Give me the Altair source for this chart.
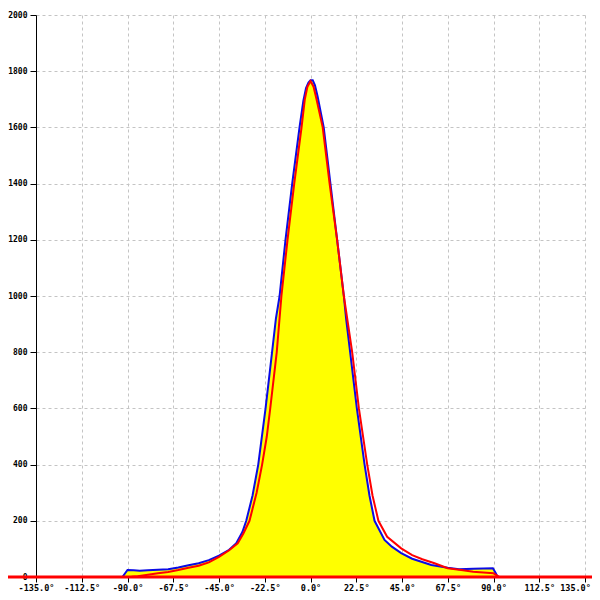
import altair as alt
import pandas as pd

# measured profile (blue line, yellow fill)
blue_x = [-92.5, -90, -87, -84, -80, -75, -70, -65, -60, -55, -50, -45, -40, -36.5, -33.5,
          -31.6, -28.5, -25.7, -22.1, -18.9, -17, -15.2, -12.3, -9.0, -5.4, -3.5, -2.2, -1, 0, 1.1,
          2.2, 3.5, 6.5, 9.8, 13.1, 16.4, 17.5, 19.5, 22.8, 26.6, 29, 31.5, 36.4, 40, 44.6, 50,
          59.4, 67.5, 73, 80, 85, 89.7, 91, 92]
blue_y = [0, 25, 24, 22, 24, 26, 28, 34, 42, 49, 60, 76, 97, 120, 160,
          200, 290, 400, 600, 800, 920, 1000, 1200, 1400, 1600, 1695, 1740, 1760, 1768, 1768,
          1750, 1710, 1600, 1400, 1200, 1000, 920, 800, 600, 400, 290, 200, 132, 108, 85, 65,
          43, 33, 28, 29, 30, 31, 15, 0]

# fitted curve (red line)
red_x = [-92.5, -88, -85, -80, -75, -70, -65, -60, -55, -50, -45, -40, -35.8, -33, -30,
         -26.5, -23.8, -21.5, -19.8, -16.6, -14.3, -11.3, -8, -4.4, -2.8, -1.5, 0, 1.5, 2.8, 6,
         9.4, 13.1, 16.4, 20.5, 23.8, 27.9, 30.5, 33.4, 37.7, 44.6, 50, 55, 61, 67.5, 75,
         80, 85, 90, 93]
red_y = [0, 1, 3, 8, 13, 18, 25, 33, 40, 52, 72, 95, 120, 155, 200,
         300, 400, 500, 600, 800, 1000, 1200, 1400, 1600, 1700, 1745, 1765, 1745, 1705, 1600,
         1400, 1200, 1000, 800, 600, 400, 290, 200, 143, 102, 78, 63, 49, 31, 24,
         19, 16, 13, 0]

x_ticks = [-135 + 22.5 * i for i in range(13)]
y_ticks = list(range(0, 2001, 200))

W, H = 549, 562

blue_df = pd.DataFrame({"x": blue_x, "y": blue_y})
red_df = pd.DataFrame({"x": red_x, "y": red_y})

xs = alt.Scale(domain=[-135, 135], nice=False, zero=False)
ys = alt.Scale(domain=[0, 2000], nice=False)

label_font = "DejaVu Sans Mono"

x_axis = alt.Axis(values=x_ticks, title=None, grid=True,
                  labelExpr="(datum.value < 0 ? '-' : '') + format(abs(datum.value), '.1f') + '°'",
                  labelFontSize=8.5, labelFont=label_font, labelFontWeight="bold",
                  labelColor="black", tickColor="black", domainColor="black",
                  tickSize=5, labelPadding=1, labelFlush=False, labelOverlap=False,
                  labelOffset={"expr": "datum.value >= 135 ? -10 : 0"})
y_axis = alt.Axis(values=y_ticks, title=None, grid=True, format="d",
                  labelFontSize=8, labelFont=label_font, labelFontWeight="bold",
                  labelColor="black", tickColor="black", domainColor="black",
                  tickSize=6, labelPadding=3, labelFlush=False, labelOverlap=False)

area = alt.Chart(blue_df).mark_area(color="#ffff00", opacity=1, interpolate="linear").encode(
    x=alt.X("x:Q", scale=xs, axis=x_axis),
    y=alt.Y("y:Q", scale=ys, axis=y_axis),
)
blue = alt.Chart(blue_df).mark_line(color="#0a0ae6", strokeWidth=2).encode(
    x=alt.X("x:Q", scale=xs), y=alt.Y("y:Q", scale=ys)
)
red = alt.Chart(red_df).mark_line(color="#ff0000", strokeWidth=2).encode(
    x=alt.X("x:Q", scale=xs), y=alt.Y("y:Q", scale=ys)
)
baseline = alt.Chart(pd.DataFrame({"y": [0]})).mark_rule(color="#ff0000", strokeWidth=3, clip=False).encode(
    x=alt.value(-28), x2=alt.value(W + 7), y=alt.Y("y:Q", scale=ys)
)

chart = alt.layer(area, blue, red, baseline).properties(
    width=W, height=H,
    autosize=alt.AutoSizeParams(type="none"),
    padding={"left": 28, "top": 7, "right": 7, "bottom": 15},
).configure_view(stroke=None).configure_axis(
    gridColor="#c4c4c4", gridDash=[3, 3], gridWidth=1, domainWidth=1, tickWidth=1
)

chart.save("out.html", embed_options={"renderer": "svg", "actions": False})
